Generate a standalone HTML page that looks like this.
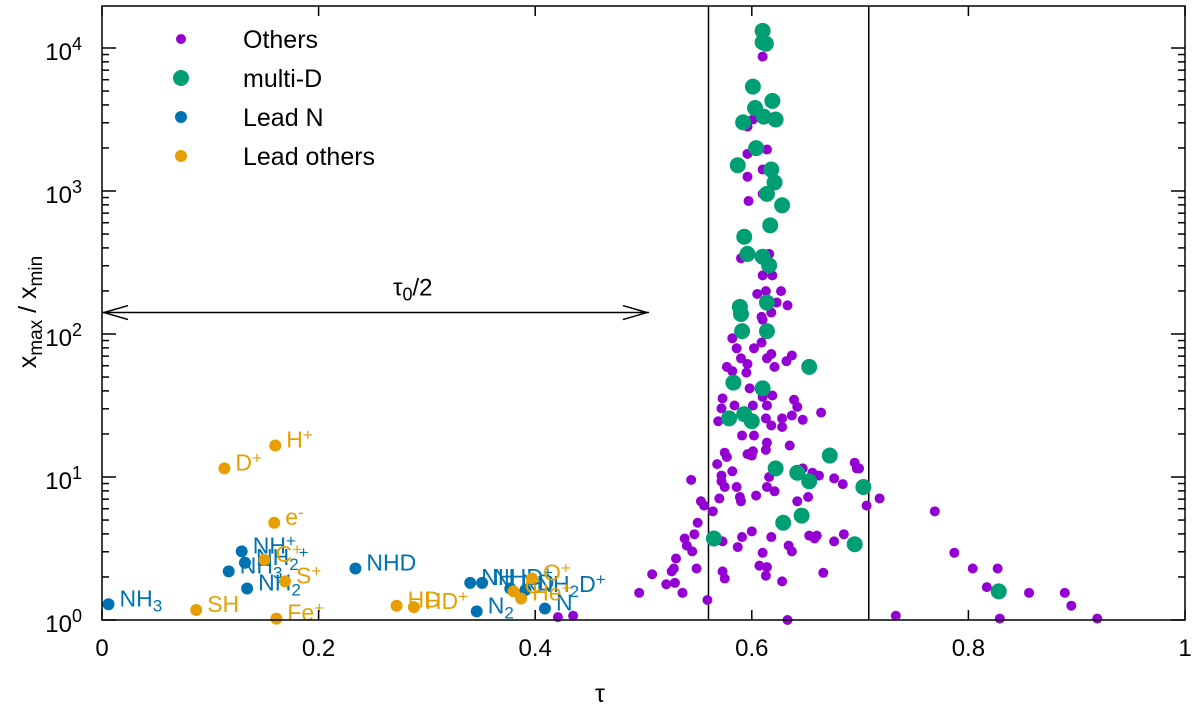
<!DOCTYPE html>
<html><head><meta charset="utf-8"><style>
html,body{margin:0;padding:0;background:#fff;}
svg{display:block;font-family:"Liberation Sans",Arial,sans-serif;}
</style></head><body>
<svg id="chart" width="1200" height="723" viewBox="0 0 1200 723" xmlns="http://www.w3.org/2000/svg"></svg>
<script>
// ---- data ----
const othersTau=[.610,.601,.596,.614,.596,.596,.610,.610,.597,.590,.616,.610,.619,.605,.613,.627,.623,.633,.618,.609,.610,.582,.586,.602,.609,.618,.614,.621,.632,.637,.590,.596,.577,.582,.595,.598,.619,.639,.642,.614,.610,.573,.584,.601,.572,.569,.613,.618,.628,.628,.637,.647,.664,.591,.602,.614,.613,.635,.575,.577,.596,.601,.600,.568,.582,.616,.614,.621,.604,.572,.572,.575,.570,.586,.589,.590,.647,.656,.662,.676,.684,.695,.697,.652,.642,.718,.706,.544,.553,.556,.564,.550,.547,.538,.540,.545,.573,.591,.600,.587,.618,.634,.637,.610,.653,.660,.658,.676,.685,.530,.528,.526,.508,.549,.521,.529,.496,.536,.559,.573,.575,.607,.614,.613,.628,.666,.633,.733,.699,.769,.787,.804,.827,.817,.856,.889,.895,.829,.919,.421,.435];
const othersLog10Ratio=[3.94,3.50,3.45,3.29,3.26,3.10,3.15,2.98,2.93,2.53,2.56,2.41,2.41,2.28,2.30,2.30,2.22,2.20,2.15,2.12,2.10,1.97,1.90,1.90,1.94,1.86,1.83,1.77,1.81,1.85,1.83,1.79,1.77,1.74,1.73,1.62,1.57,1.54,1.49,1.50,1.56,1.55,1.50,1.50,1.48,1.39,1.41,1.36,1.41,1.35,1.43,1.40,1.45,1.29,1.29,1.24,1.19,1.22,1.17,1.14,1.16,1.18,1.15,1.09,1.04,1.00,0.93,0.90,0.87,1.01,0.97,0.93,0.85,0.93,0.86,0.83,1.06,1.03,1.01,0.99,0.95,1.10,1.06,0.86,0.83,0.85,0.80,0.98,0.83,0.80,0.76,0.68,0.60,0.57,0.52,0.48,0.55,0.58,0.62,0.51,0.58,0.52,0.48,0.47,0.59,0.59,0.57,0.55,0.60,0.43,0.36,0.34,0.32,0.36,0.25,0.26,0.19,0.19,0.14,0.34,0.29,0.38,0.37,0.31,0.27,0.33,0.00,0.03,1.06,0.76,0.47,0.36,0.36,0.23,0.19,0.19,0.10,0.01,0.01,0.02,0.03];
const multiDTau=[.610,.610,.613,.601,.619,.603,.611,.622,.592,.604,.587,.618,.621,.614,.628,.617,.593,.596,.610,.616,.589,.614,.590,.591,.614,.653,.583,.610,.579,.593,.600,.672,.622,.642,.653,.703,.646,.629,.565,.695,.828];
const multiDLog10Ratio=[4.12,4.04,4.03,3.73,3.63,3.58,3.52,3.50,3.48,3.30,3.18,3.15,3.06,2.98,2.90,2.76,2.68,2.56,2.54,2.48,2.19,2.22,2.14,2.02,2.02,1.77,1.66,1.62,1.41,1.44,1.39,1.15,1.06,1.03,0.97,0.93,0.73,0.68,0.57,0.53,0.20];
const leadNNames=["NH<tspan baseline-shift='-30%' font-size='17'>3</tspan>","NH<tspan baseline-shift='40%' font-size='17'>+</tspan>","NH<tspan baseline-shift='-30%' font-size='17'>2</tspan><tspan baseline-shift='40%' font-size='17'>+</tspan>","NH<tspan baseline-shift='-30%' font-size='17'>3</tspan>","NH<tspan baseline-shift='-30%' font-size='17'>2</tspan>","NHD","NH","NHD<tspan baseline-shift='40%' font-size='17'>+</tspan>","ND","NH<tspan baseline-shift='-30%' font-size='17'>2</tspan>D<tspan baseline-shift='40%' font-size='17'>+</tspan>","N<tspan baseline-shift='-30%' font-size='17'>2</tspan>","N"];
const leadNTau=[.006,.129,.132,.117,.134,.234,.340,.351,.377,.391,.346,.409];
const leadNLog10Ratio=[0.11,0.48,0.40,0.34,0.22,0.36,0.26,0.26,0.22,0.21,0.06,0.08];
const leadOthersNames=["D<tspan baseline-shift='40%' font-size='17'>+</tspan>","H<tspan baseline-shift='40%' font-size='17'>+</tspan>","e<tspan baseline-shift='40%' font-size='17'>-</tspan>","C<tspan baseline-shift='40%' font-size='17'>+</tspan>","S<tspan baseline-shift='40%' font-size='17'>+</tspan>","SH","Fe<tspan baseline-shift='40%' font-size='17'>+</tspan>","HD","HD<tspan baseline-shift='40%' font-size='17'>+</tspan>","C","He<tspan baseline-shift='40%' font-size='17'>+</tspan>","O<tspan baseline-shift='40%' font-size='17'>+</tspan>"];
const leadOthersTau=[.113,.160,.159,.150,.169,.087,.161,.272,.288,.380,.387,.397];
const leadOthersLog10Ratio=[1.06,1.22,0.68,0.42,0.27,0.07,0.01,0.10,0.09,0.20,0.15,0.29];
const xTickValues=[0,0.2,0.4,0.6,0.8,1];
const xTickLabels=["0","0.2","0.4","0.6","0.8","1"];
const yTickExponents=[0,1,2,3,4];
const vLineTau=[0.560,0.708];
const halfTau0=0.505;
const arrowLog10=2.15;

// ---- axes ----
const X0=102,X1=1185,Y0=620,Y1=6,DEC=143;
function xs(t){return X0+t*(X1-X0);}
function ys(l){return Y0-l*DEC;}
const svg=document.getElementById('chart');
const NS='http://www.w3.org/2000/svg';
function mk(tag,attrs,parent){const e=document.createElementNS(NS,tag);for(const k in attrs)e.setAttribute(k,attrs[k]);(parent||svg).appendChild(e);return e;}

vLineTau.forEach((t,i)=>{const l=mk('line',{x1:xs(t),x2:xs(t),y1:Y1,y2:Y0,stroke:'#000','stroke-width':1.5});

});

const ag=mk('g',{stroke:'#000','stroke-width':1.5,fill:'none'});


const ay=ys(arrowLog10),ax2=xs(halfTau0);
mk('line',{x1:X0,x2:ax2,y1:ay,y2:ay},ag);
mk('polyline',{points:`${X0+26},${ay-7} ${X0+2},${ay} ${X0+26},${ay+7}`},ag);
mk('polyline',{points:`${ax2-26},${ay-7} ${ax2-2},${ay} ${ax2-26},${ay+7}`},ag);
const at=mk('text',{x:393,y:ay-17,'font-size':24});
at.innerHTML="τ<tspan baseline-shift='-30%' font-size='18'>0</tspan>/2";



function series(tau,lg,r,col,name){
 const g=mk('g',{fill:col});
 
 
 tau.forEach((t,i)=>{const c=mk('circle',{cx:xs(t),cy:ys(lg[i]),r:r},g);
 
 });
}
series(othersTau,othersLog10Ratio,5,'#9400d3','others-series');
series(multiDTau,multiDLog10Ratio,8,'#009e73','multi-d-series');
function labeled(tau,lg,names,col,name){
 series(tau,lg,6,col,name);
 tau.forEach((t,i)=>{const tx=mk('text',{x:xs(t)+11,y:ys(lg[i])+2,'font-size':23,fill:col});
 tx.innerHTML=names[i];
 
 });
}
labeled(leadNTau,leadNLog10Ratio,leadNNames,'#0072b2','lead-n-series');
labeled(leadOthersTau,leadOthersLog10Ratio,leadOthersNames,'#e69f00','lead-others-series');

const fg=mk('g',{stroke:'#000','stroke-width':1.5,fill:'none'});


mk('rect',{x:X0,y:Y1,width:X1-X0,height:Y0-Y1},fg);
xTickValues.forEach((v,i)=>{const x=xs(v);
 mk('line',{x1:x,x2:x,y1:Y0,y2:Y0-10},fg);mk('line',{x1:x,x2:x,y1:Y1,y2:Y1+10},fg);
 const t=mk('text',{x:x,y:Y0+36,'font-size':24,'text-anchor':'middle',fill:'#000',stroke:'none'});
 t.textContent=xTickLabels[i];
 
 });
yTickExponents.forEach(e=>{const y=ys(e);
 mk('line',{x1:X0,x2:X0+14,y1:y,y2:y},fg);mk('line',{x1:X1,x2:X1-14,y1:y,y2:y},fg);
 if(e<4){for(let m=2;m<=9;m++){const yy=ys(e+Math.log10(m));mk('line',{x1:X0,x2:X0+7,y1:yy,y2:yy},fg);mk('line',{x1:X1,x2:X1-7,y1:yy,y2:yy},fg);}}
 else{const yy=ys(e+Math.log10(2));if(yy>Y1){mk('line',{x1:X0,x2:X0+7,y1:yy,y2:yy},fg);mk('line',{x1:X1,x2:X1-7,y1:yy,y2:yy},fg);}}
 const t=mk('text',{x:82,y:y+12,'font-size':24,'text-anchor':'end',fill:'#000',stroke:'none'});
 t.innerHTML="10<tspan baseline-shift='55%' font-size='18'>"+e+"</tspan>";
 
 });

const xt=mk('text',{x:600,y:702,'font-size':25,'text-anchor':'middle'});
xt.textContent='τ';


const yt=mk('text',{x:0,y:0,'font-size':25,'text-anchor':'middle',transform:'translate(36,312) rotate(-90)'});
yt.innerHTML="x<tspan baseline-shift='-30%' font-size='19'>max</tspan> / x<tspan baseline-shift='-30%' font-size='19'>min</tspan>";



const legItems=[["Others",'#9400d3',5],["multi-D",'#009e73',8],["Lead N",'#0072b2',6],["Lead others",'#e69f00',6]];
legItems.forEach((it,i)=>{const y=39+i*39;
 const g=mk('g',{});
 
 
 mk('circle',{cx:181,cy:y,r:it[2],fill:it[1]},g);
 const t=mk('text',{x:243,y:y+9,'font-size':25},g);t.textContent=it[0];});
</script>
</body></html>
